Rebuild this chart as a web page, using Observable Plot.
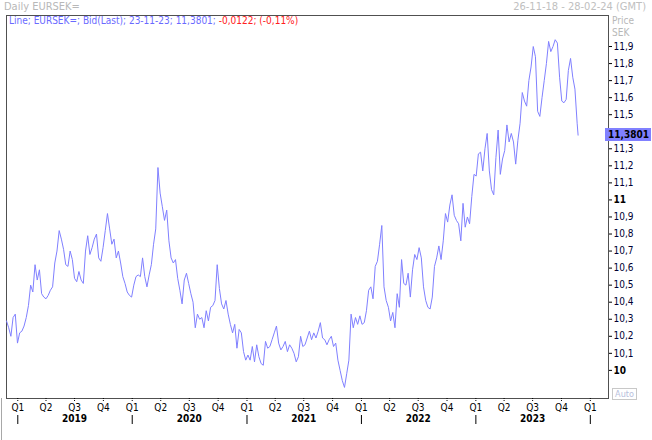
<!DOCTYPE html>
<html><head><meta charset="utf-8">
<script src="https://cdn.jsdelivr.net/npm/d3@7"></script>
<script src="https://cdn.jsdelivr.net/npm/@observablehq/plot@0.6"></script>
<style>
body{margin:0;background:#fff;}
#wrap{position:relative;width:652px;height:440px;overflow:hidden;font-family:"DejaVu Sans Condensed","DejaVu Sans",sans-serif;}
.ov{position:absolute;white-space:nowrap;font-size:10px;line-height:12px;}
</style></head><body><div id="wrap"></div>
<script>
// ---- data ----
const seriesName = "EURSEK=";
const startDate = "2018-11-26";
const stepDays = 7;
const weeklyClose = [
10.29,10.25,10.20,10.31,10.33,10.16,10.22,10.23,10.26,10.31,
10.38,10.50,10.46,10.62,10.53,10.59,10.45,10.43,10.42,10.44,
10.47,10.49,10.63,10.70,10.82,10.77,10.71,10.62,10.61,10.70,
10.65,10.54,10.52,10.58,10.53,10.51,10.70,10.79,10.68,10.72,
10.77,10.80,10.66,10.64,10.72,
10.82,10.92,10.83,10.74,10.77,10.66,10.70,10.63,10.55,10.51,
10.46,10.44,10.43,10.50,10.55,10.56,10.55,10.66,10.55,10.49,
10.56,10.62,10.74,10.83,11.19,11.04,10.96,10.88,10.94,10.76,
10.66,10.63,10.65,10.54,10.47,10.39,10.53,10.57,10.51,10.45,
10.40,10.25,10.33,
10.30,10.31,10.25,10.35,10.29,10.37,10.38,10.41,10.62,10.48,
10.39,10.36,10.41,10.33,10.27,10.22,10.27,10.13,10.24,10.22,
10.11,10.06,10.09,10.06,10.14,10.05,10.15,10.08,10.04,10.03,
10.17,10.13,10.14,10.18,10.22,10.26,10.16,10.12,10.14,10.17,
10.11,10.15,10.13,10.10,
10.05,10.08,10.20,10.14,10.15,10.19,10.23,10.18,10.22,10.19,
10.23,10.28,10.19,10.18,10.15,10.18,10.20,10.14,10.16,10.06,
10.00,9.94,9.90,9.98,10.06,10.33,10.25,10.31,10.27,10.32,
10.27,10.28,10.35,10.47,10.49,10.42,10.61,10.64,10.74,10.85,
10.49,10.41,
10.37,10.29,10.34,10.25,10.45,10.37,10.65,10.51,10.50,10.57,
10.43,10.59,10.68,10.65,10.72,10.66,10.49,10.41,10.37,10.36,
10.43,10.61,10.66,10.73,10.65,10.76,10.92,10.87,10.97,11.03,
10.91,10.88,10.86,10.76,10.98,10.84,10.90,10.86,11.02,11.15,
11.14,11.27,11.28,11.17,
11.30,11.39,11.17,11.06,11.03,11.25,11.41,11.15,11.24,11.29,
11.44,11.34,11.39,11.34,11.21,11.35,11.45,11.63,11.58,11.55,
11.70,11.78,11.90,11.84,11.52,11.49,11.60,11.70,11.80,11.93,
11.87,11.90,11.94,11.92,11.72,11.58,11.57,11.59,11.76,11.83,
11.72,11.65,11.45
];
const lastDate = "2023-11-23";
const lastValue = 11.3801;
const lastChange = "-0,0122";
const lastChangePct = "(-0,11%)";
const rangeText = "26-11-18 - 28-02-24 (GMT)";
const xDomain = ["2018-11-26", "2024-02-28"];
const yDomain = [9.835, 12.082];
const yTicks = [10,10.1,10.2,10.3,10.4,10.5,10.6,10.7,10.8,10.9,11,11.1,11.2,11.3,11.4,11.5,11.6,11.7,11.8,11.9];
const yBoldTicks = [10, 11];
const quarterLabels = ["Q1","Q2","Q3","Q4"];
const years = [2019,2020,2021,2022,2023];

// ---- build ----
const t0 = new Date(startDate);
const data = weeklyClose.map((v,i)=>({date: d3.utcDay.offset(t0, i*stepDays), value: v}));
data.push({date: new Date(lastDate), value: lastValue});

const quarterDates = d3.utcMonth.every(3).range(new Date(Date.UTC(years[0],0,1)), new Date(Date.UTC(years[years.length-1]+1,0,2)));
const yearStarts = d3.range(years[0], years[years.length-1]+2).map(y=>new Date(Date.UTC(y,0,1)));
const yearMids = years.map(y=>new Date(Date.UTC(y,6,1)));
const fmt = d => String(d).replace(".", ",");
// the tick label hidden behind the last-value box is not shown
const fmtTick = d => Math.abs(d - lastValue) < 0.05 ? "" : fmt(d);
const font = '"DejaVu Sans Condensed","DejaVu Sans",sans-serif';

const chart = Plot.plot({
  width: 652, height: 440,
  marginLeft: 6, marginRight: 44, marginTop: 15, marginBottom: 42,
  style: {fontFamily: font, fontSize: "10px", color: "#000", background: "#fff"},
  x: {type: "utc", domain: xDomain.map(d=>new Date(d))},
  y: {domain: yDomain},
  marks: [
    Plot.frame({stroke: "#505050"}),
    Plot.lineY(data, {x: "date", y: "value", stroke: "#8080ff", strokeWidth: 1}),
    Plot.axisY({anchor: "right", ticks: yTicks.filter(t=>!yBoldTicks.includes(t)), tickSize: 3, tickPadding: 2, tickFormat: fmtTick, label: null, fill: "#000033"}),
    Plot.axisY({anchor: "right", ticks: yBoldTicks, tickSize: 3, tickPadding: 2, tickFormat: fmt, label: null, fontWeight: "bold", fill: "#000"}),
    Plot.axisX({anchor: "bottom", ticks: quarterDates, tickSize: 4, tickPadding: 1, tickFormat: d=>quarterLabels[d.getUTCMonth()/3], label: null, strokeDasharray: "1,1"}),
    Plot.axisX({anchor: "bottom", ticks: yearMids, tickSize: 0, tickPadding: 16, tickFormat: d=>String(d.getUTCFullYear()), label: null, fontWeight: "bold"}),
    Plot.axisX({anchor: "bottom", ticks: yearStarts, tickSize: 9, dy: 17, tickFormat: ()=>"", label: null, stroke: "#000"})
  ]
});
const wrap = document.getElementById("wrap");
wrap.appendChild(chart);

function ov(html, css){const d=document.createElement("div");d.className="ov";d.innerHTML=html;Object.assign(d.style,css);wrap.appendChild(d);return d;}
ov("Daily " + seriesName, {left:"4px", top:"1px", color:"#b8b8b8", fontSize:"11px"});
ov(rangeText, {right:"6px", top:"1px", color:"#c0c0c0", fontSize:"11px"});
ov(`<span style="color:#6a6aff">Line; ${seriesName}; Bid(Last); 23-11-23; ${fmt(lastValue)};</span> <span style="color:#ff2020">${lastChange}; ${lastChangePct}</span>`, {left:"9px", top:"15px", fontSize:"10px"});
ov("Price", {left:"612px", top:"15px", color:"#b8b8b8"});
ov("SEK", {left:"612px", top:"27px", color:"#b8b8b8"});
ov("Auto", {left:"612px", top:"388px", width:"23px", height:"10px", lineHeight:"10px", border:"1px solid #c8c8c8", color:"#b8c0dc", fontSize:"9px", textAlign:"center"});
const py = chart.scale("y").apply(lastValue);
ov(fmt(lastValue), {left:"605px", top:(py-6.5)+"px", width:"46px", height:"13px", lineHeight:"13px", background:"#8080ff", color:"#000", fontWeight:"bold", paddingLeft:"3px", boxSizing:"border-box"});
ov("", {left:"1px", top:"398px", width:"1px", height:"42px", background:"#a8a8a8"});
</script></body></html>
